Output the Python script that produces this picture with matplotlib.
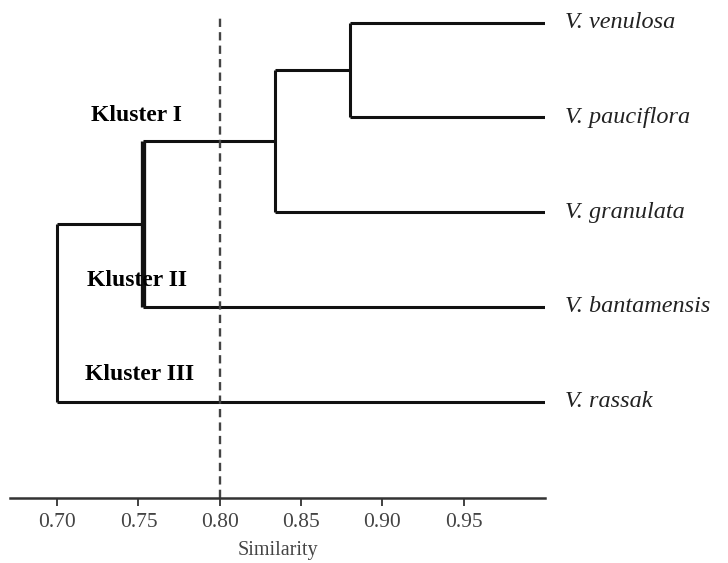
import matplotlib.pyplot as plt

plt.rcParams['font.family'] = ['Liberation Serif', 'DejaVu Serif']

# foglie dal basso verso l'alto
foglie = ['V. rassak', 'V. bantamensis', 'V. granulata', 'V. pauciflora', 'V. venulosa']
# fusioni: (nodo a, nodo b, similarita)
fusioni = [('V. venulosa', 'V. pauciflora', 0.88),
           ('n0', 'V. granulata', 0.834),
           ('n1', 'V. bantamensis', 0.753),
           ('n2', 'V. rassak', 0.70)]
cluster_nomi = ['Kluster I', 'Kluster II', 'Kluster III']
cluster_x = [0.749, 0.749, 0.7505]
cluster_y = [3.02, 1.28, 0.29]
taglio = 0.80
tick_x = [0.70, 0.75, 0.80, 0.85, 0.90, 0.95]

fig = plt.figure(figsize=(7.28, 5.63), dpi=100)
ax = fig.add_axes([10/728, 65/563, 535/728, 498/563])

# posizione (x, y) di ogni nodo
pos = {f: (1.0, i) for i, f in enumerate(foglie)}
for k, (a, b, h) in enumerate(fusioni):
    xa, ya = pos[a]
    xb, yb = pos[b]
    ax.plot([xa, h], [ya, ya], color='#111111', lw=2.2, solid_capstyle='butt')
    ax.plot([xb, h], [yb, yb], color='#111111', lw=2.2, solid_capstyle='butt')
    lw = 3.8 if k == 2 else 2.2
    ax.plot([h, h], [ya, yb], color='#111111', lw=lw, solid_capstyle='butt')
    pos['n%d' % k] = (h, (ya + yb) / 2)

for i, f in enumerate(foglie):
    ax.text(1.012, i, f, fontsize=17.5, style='italic', va='center', ha='left',
            color='#222222', clip_on=False)

for nome, x, y in zip(cluster_nomi, cluster_x, cluster_y):
    ax.text(x, y, nome, fontsize=17, fontweight='bold', ha='center', va='center')

ax.plot([taglio, taglio], [-1.02, 4.05], color='#444444', lw=1.7, ls=(0, (3.5, 2.2)))

ax.set_xlim(0.671, 1.0)
ax.set_ylim(-1.017, 4.24)
ax.set_xticks(tick_x)
ax.set_xticklabels(['%.2f' % t for t in tick_x], fontsize=15.5, color='#444444')
ax.set_yticks([])
ax.tick_params(axis='x', direction='out', length=6, width=1.3, color='#333333', pad=5)
for s in ['top', 'right', 'left']:
    ax.spines[s].set_visible(False)
ax.spines['bottom'].set_linewidth(1.8)
ax.spines['bottom'].set_color('#333333')
ax.set_xlabel('Similarity', fontsize=14.5, color='#444444', labelpad=6)

fig.savefig('out.png', dpi=100)
